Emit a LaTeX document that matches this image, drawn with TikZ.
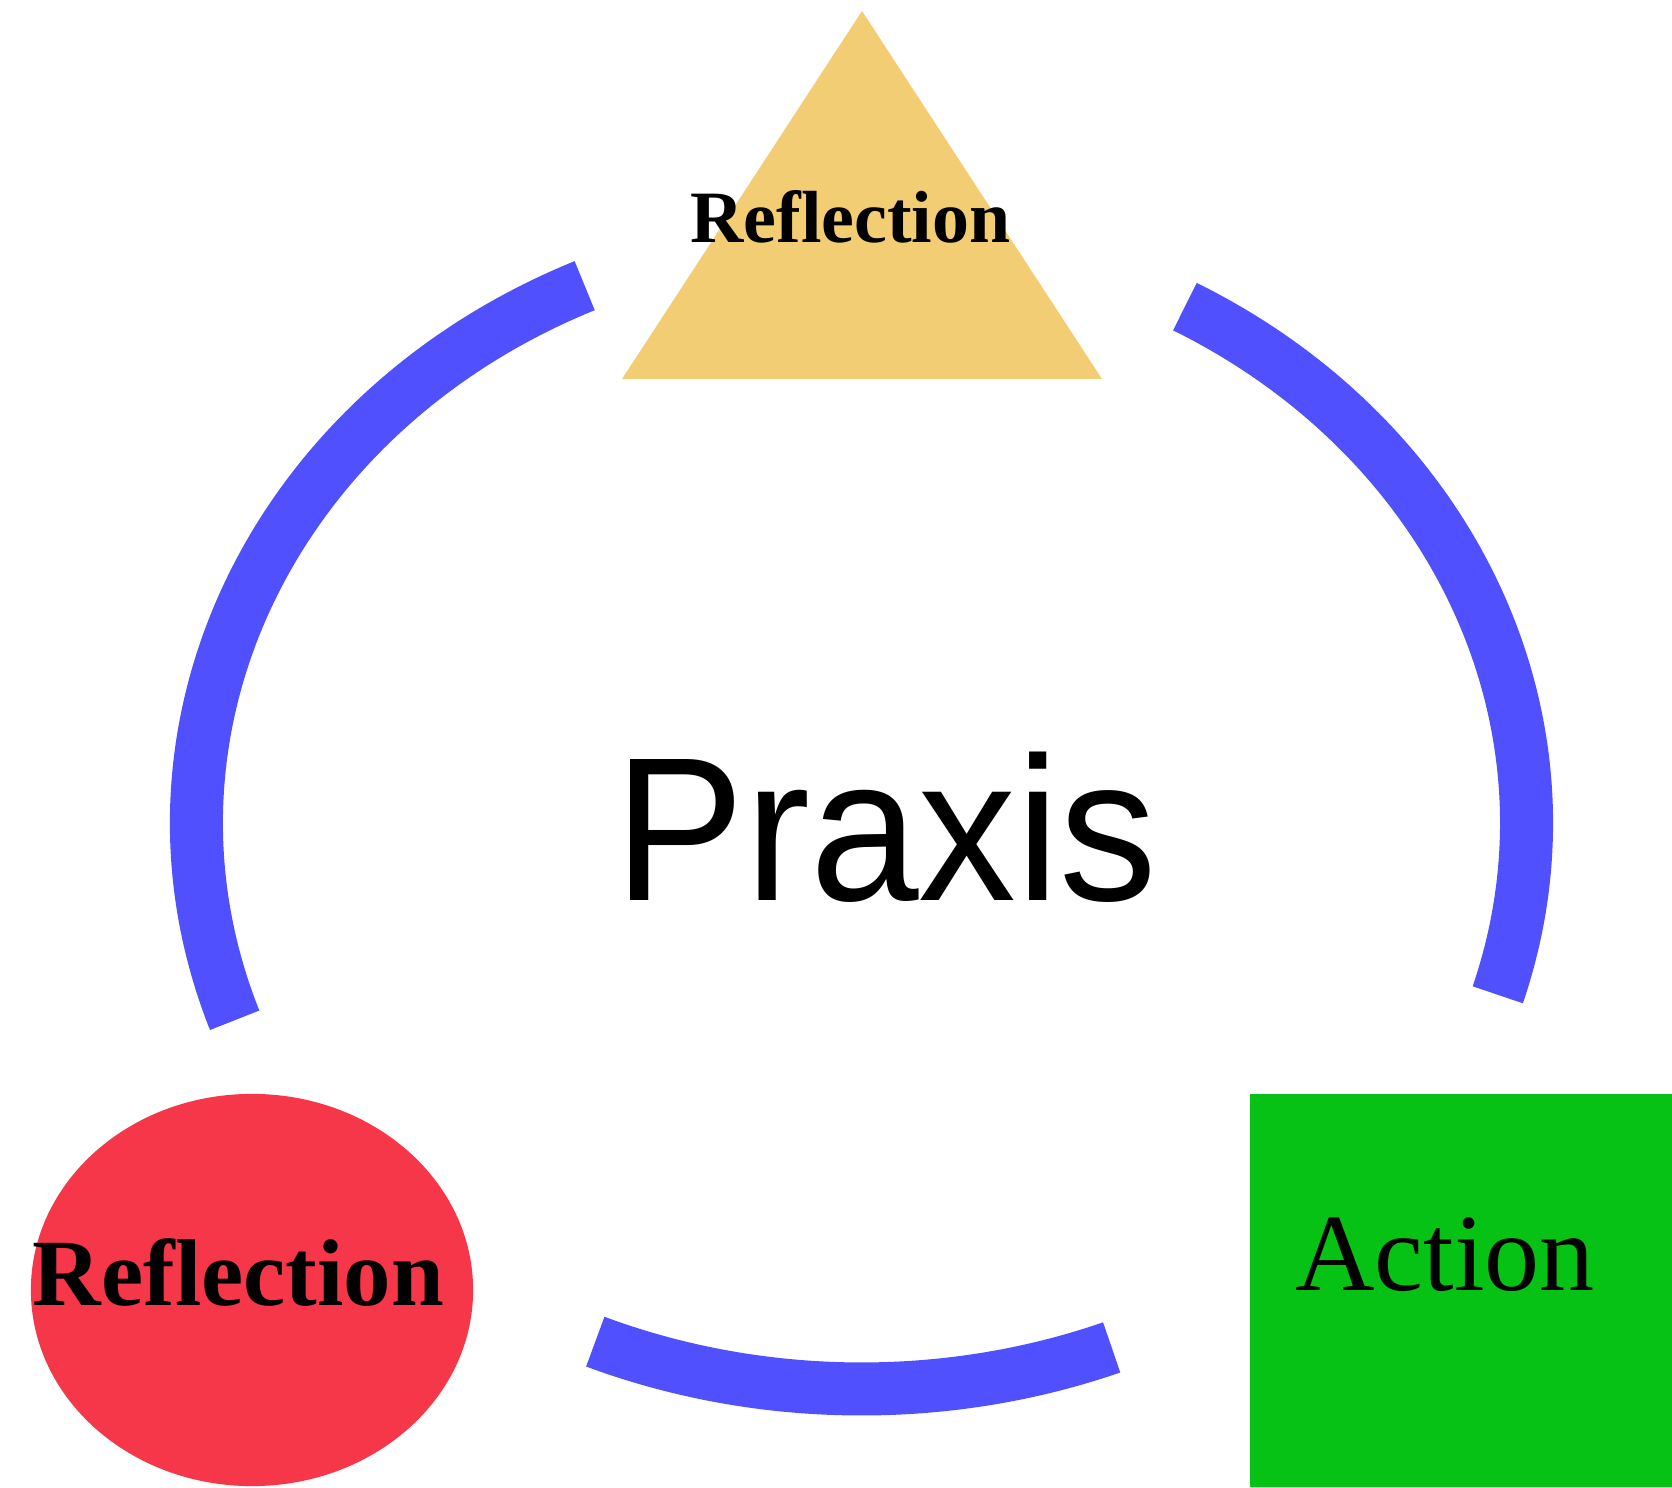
\documentclass[tikz,border=0pt]{standalone}
\usepackage{fontspec}
\setmainfont{Liberation Serif}
\newfontfamily\praxisfont{Liberation Sans}
\usepackage{tikz}
\usetikzlibrary{shapes.geometric}
\definecolor{triYellow}{RGB}{243,205,115}
\definecolor{ellRed}{RGB}{246,54,73}
\definecolor{boxGreen}{RGB}{6,194,21}
\definecolor{loopBlue}{RGB}{80,80,255}
\tikzset {
    style E/.style={
        fill=ellRed,
        draw=none,
        ellipse, % Set the shape as an ellipse
        inner sep=0pt,
        minimum width=4.42cm,
        minimum height=3.92cm,
    },
    style S/.style={
        fill=boxGreen,
        draw=none,
        rectangle, % Set the shape as a rectangle
        inner sep=0pt,
        minimum width=4.22cm,
        minimum height=3.93cm,
    },
    style L/.style={
        draw=none,
        anchor=base,
        inner sep=0pt,
        align=center,
    },
    style loop/.style={
        draw=loopBlue,
        line width=5.3mm,
    },
}

\begin{document}
\begin{tikzpicture}
[x=0.01cm, y=0.01cm]
\useasboundingbox (0,0) rectangle (1672,1487);

\coordinate (apex) at (862,1476);
\coordinate (baseL) at (622,1108);
\coordinate (baseR) at (1102,1108);
\fill[triYellow] (apex) -- (baseL) -- (baseR) -- cycle;

\node[style E] at (252,197) (reflEll) {};
\node[style S] at (1461,196.5) (actBox) {};

\node[style L, font=\fontsize{21pt}{21pt}\bfseries] at (850.5,1244) (reflTop) {Reflection};
\node[style L, font=\fontsize{27pt}{27pt}\bfseries] at (238.5,182) (reflLow) {Reflection};
\node[style L, font=\fontsize{31.3pt}{31.3pt}\selectfont] at (1445,197) (act) {Action};
\node[style L, font=\praxisfont\fontsize{55.5pt}{55.5pt}\selectfont] at (886,587) (praxis) {\scalebox{1}[1.05]{Praxis}};

\coordinate (mid) at (861.5,664);
\draw[style loop] ([shift={(114.6:665 and 591)}]mid) arc[start angle=114.6, end angle=199.5, x radius=665, y radius=591];
\draw[style loop] ([shift={(60.9:665 and 591)}]mid) arc[start angle=60.9, end angle=-16.9, x radius=665, y radius=591];
\draw[style loop] ([shift={(246.4:665 and 566)}]mid) arc[start angle=246.4, end angle=292.1, x radius=665, y radius=566];
\end{tikzpicture}
\end{document}
